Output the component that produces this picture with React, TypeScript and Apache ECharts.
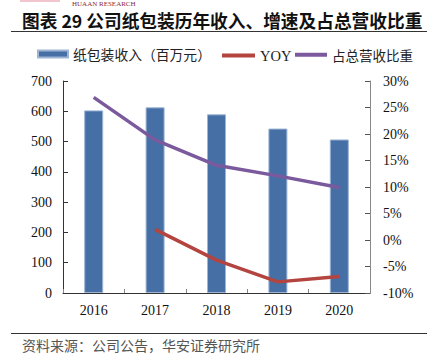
import React, { useEffect, useRef } from "react";
import * as echarts from "echarts";

const years = ["2016", "2017", "2018", "2019", "2020"];
const revenue = [603, 613, 590, 543, 507];
const yoy = [null, 2.0, -3.8, -7.9, -6.9];
const share = [26.9, 18.9, 14.1, 12.1, 9.9];
const leftTicks = [0, 700, 100];
const rightTicks = [-10, 30, 5];

const TITLE = "图表 29 公司纸包装历年收入、增速及占总营收比重";
const SOURCE = "资料来源：公司公告，华安证券研究所";
const CJK = "'Noto Sans CJK SC', sans-serif";
const SERIF = "'Liberation Serif', 'DejaVu Serif', serif";

export default function App() {
  const ref = useRef<HTMLDivElement>(null);
  useEffect(() => {
    if (!ref.current) return;
    const chart = echarts.init(ref.current, null, { renderer: "svg" });
    chart.setOption({
      animation: false,
      backgroundColor: "#ffffff",
      grid: { left: 63, right: 57, top: 81, bottom: 69 },
      legend: [
        {
          left: 32, top: 42, itemWidth: 30, itemHeight: 7, itemGap: 5,
          data: [{ name: "纸包装收入（百万元）", icon: "rect" }],
          textStyle: { fontFamily: CJK, fontSize: 13.8, color: "#222" },
        },
        {
          left: 217, top: 43, itemWidth: 33, itemHeight: 4,
          data: [{ name: "YOY", icon: "rect" }],
          textStyle: { fontFamily: SERIF, fontSize: 14.5, color: "#222" },
        },
        {
          left: 290, top: 43, itemWidth: 32, itemHeight: 4,
          data: [{ name: "占总营收比重", icon: "rect" }],
          textStyle: { fontFamily: CJK, fontSize: 13.5, color: "#222" },
        },
      ],
      xAxis: {
        type: "category",
        data: years,
        axisLine: { lineStyle: { color: "#333", width: 1 } },
        axisTick: { show: true, inside: true, length: 4, lineStyle: { color: "#888" } },
        axisLabel: { fontFamily: SERIF, fontSize: 14, color: "#111", margin: 10 },
      },
      yAxis: [
        {
          type: "value",
          min: leftTicks[0], max: leftTicks[1], interval: leftTicks[2],
          axisLine: { show: true, lineStyle: { color: "#333" } },
          axisTick: { show: true, inside: true, length: 5, lineStyle: { color: "#333" } },
          splitLine: { show: false },
          axisLabel: { fontFamily: SERIF, fontSize: 14, color: "#111", margin: 11 },
        },
        {
          type: "value",
          min: rightTicks[0], max: rightTicks[1], interval: rightTicks[2],
          axisLine: { show: true, lineStyle: { color: "#888" } },
          axisTick: { show: true, inside: true, length: 5, lineStyle: { color: "#555" } },
          splitLine: { show: false },
          axisLabel: { fontFamily: SERIF, fontSize: 14, color: "#111", margin: 13, formatter: "{value}%" },
        },
      ],
      series: [
        {
          name: "纸包装收入（百万元）",
          type: "bar",
          data: revenue,
          barWidth: 19,
          itemStyle: { color: "#4670A5", borderColor: "#9DB4D4", borderWidth: 1 },
        },
        {
          name: "YOY",
          type: "line",
          yAxisIndex: 1,
          data: yoy,
          symbol: "none",
          lineStyle: { color: "#B3443F", width: 3.5 },
          itemStyle: { color: "#B3443F" },
        },
        {
          name: "占总营收比重",
          type: "line",
          yAxisIndex: 1,
          data: share,
          symbol: "none",
          lineStyle: { color: "#7A5A9D", width: 3.5 },
          itemStyle: { color: "#7A5A9D" },
        },
      ],
      graphic: [
        { type: "rect", shape: { x: 20, y: 0, width: 40, height: 2 }, style: { fill: "#F3C6CF" } },
        { type: "text", left: 72, top: 0, style: { text: "HUAAN RESEARCH", font: "7px 'Liberation Serif', serif", fill: "#8A2A3A" } },
        { type: "text", left: 22, top: 11, style: { text: TITLE, font: `bold 17.7px ${CJK}`, fill: "#111" } },
        { type: "line", shape: { x1: 11, y1: 31.5, x2: 427, y2: 31.5 }, style: { stroke: "#333", lineWidth: 1 } },
        { type: "line", shape: { x1: 11, y1: 333.5, x2: 427, y2: 333.5 }, style: { stroke: "#333", lineWidth: 1 } },
        { type: "text", left: 22, top: 338, style: { text: SOURCE, font: `14px ${CJK}`, fill: "#555" } },
      ],
    });
    return () => chart.dispose();
  }, []);
  return (
    <div
      ref={ref}
      style={{ position: "fixed", left: 0, top: 0, width: 427, height: 362 }}
    />
  );
}
